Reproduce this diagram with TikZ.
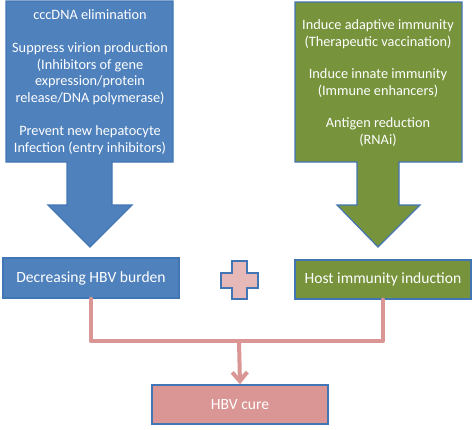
\documentclass[tikz,border=0pt]{standalone}
\usepackage{fontspec}
\setmainfont{Carlito}
\usetikzlibrary{arrows.meta}
\definecolor{hbvblue}{HTML}{4F81BD}
\definecolor{hbvedge}{HTML}{4275B4}
\definecolor{hbvgreen}{HTML}{77933C}
\definecolor{hbvpink}{HTML}{D99694}
\definecolor{hbvlight}{HTML}{E6B9B8}
\begin{document}
\begin{tikzpicture}[x=1pt, y=-1pt, line join=miter, font=\fontsize{14.3}{16.6}\selectfont,
	bigarrow/.style={draw=hbvedge, line width=1.2pt},
	box/.style={draw=hbvedge, line width=1.4pt, minimum width=176pt, minimum height=39pt, inner sep=0pt, text=white, font=\fontsize{15.6}{17}\selectfont},
	conn/.style={draw=hbvpink, line width=4pt, line cap=round, line join=round}]
	\useasboundingbox (0,0) rectangle (473,429);
	
	% Mũi tên lớn bên trái (giảm tải lượng virus)
	\draw[bigarrow, fill=hbvblue] (6,1) -- (173,1) -- (173,162) -- (112,162) -- (112,205) -- (132,205) -- (90,247)
		-- (48,205) -- (67,205) -- (67,162) -- (6,162) -- cycle;
	\node[text=white, align=center] (left) at (90,82) {cccDNA elimination\\[16.6pt]Suppress virion production\\(Inhibitors of gene\\expression/protein\\release/DNA polymerase)\\[16.6pt]Prevent new hepatocyte\\Infection (entry inhibitors)};
	
	% Mũi tên lớn bên phải (miễn dịch)
	\draw[bigarrow, fill=hbvgreen] (295,2) -- (462,2) -- (462,162) -- (399,162) -- (399,205) -- (420,205) -- (378,247)
		-- (337,205) -- (357,205) -- (357,162) -- (295,162) -- cycle;
	\node[text=white, align=center] (right) at (378,83) {Induce adaptive immunity\\(Therapeutic vaccination)\\[16pt]Induce innate immunity\\(Immune enhancers)\\[16pt]Antigen reduction\\(RNAi)};
	
	% Các hộp kết quả
	\node[box, fill=hbvblue, minimum height=40pt] (dec) at (91,278) {Decreasing HBV burden};
	\node[box, fill=hbvgreen] (host) at (383,279.5) {Host immunity induction};
	\node[box, fill=hbvpink] (cure) at (240,404.5) {HBV cure};
	
	% Dấu cộng
	\draw[bigarrow, fill=hbvlight] (232,261) -- (247,261) -- (247,273) -- (258,273) -- (258,288) -- (247,288) -- (247,299)
		-- (232,299) -- (232,288) -- (221,288) -- (221,273) -- (232,273) -- cycle;
	
	% Đường nối
	\coordinate (join) at (239,341);
	\draw[conn] (dec.south) |- (join) -| (host.south);
	\draw[conn, -{Straight Barb[length=9pt, width=15pt]}] (join) -- (cure.north);
\end{tikzpicture}
\end{document}
